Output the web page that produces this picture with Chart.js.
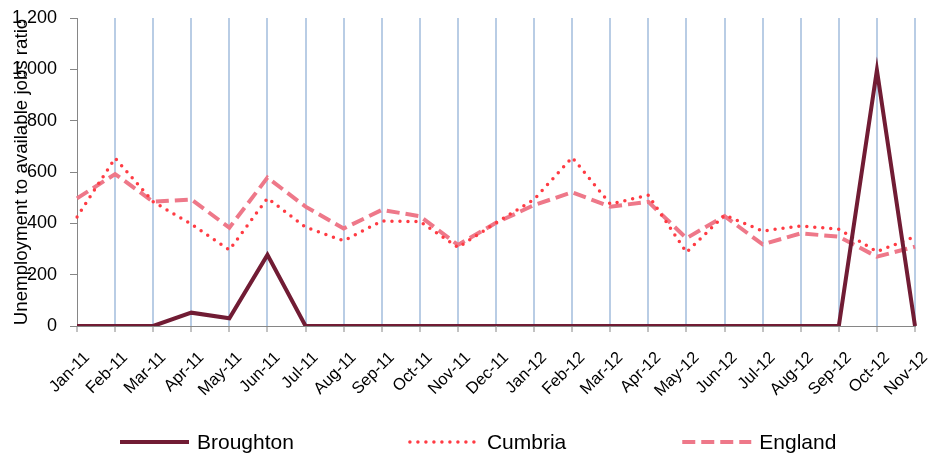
<!DOCTYPE html>
<html><head><meta charset="utf-8">
<script src="https://cdn.jsdelivr.net/npm/chart.js@4/dist/chart.umd.min.js"></script>
<style>html,body{margin:0;padding:0;background:#fff}#wrap{width:934px;height:454px;position:relative}</style>
</head><body><div id="wrap"><canvas id="c"></canvas></div>
<script>
const categories = ['Jan-11','Feb-11','Mar-11','Apr-11','May-11','Jun-11','Jul-11','Aug-11','Sep-11','Oct-11','Nov-11','Dec-11','Jan-12','Feb-12','Mar-12','Apr-12','May-12','Jun-12','Jul-12','Aug-12','Sep-12','Oct-12','Nov-12'];
const broughton = [0,0,0,52,30,277,0,0,0,0,0,0,0,0,0,0,0,0,0,0,0,997,0];
const cumbria = [425,654,484,397,296,498,385,332,409,407,306,402,493,657,475,510,287,432,370,390,377,290,348];
const england = [497,592,484,493,383,578,465,380,452,428,316,402,471,521,465,484,342,428,318,361,348,270,309];
const yTickValues = [0,200,400,600,800,1000,1200];
const seriesNames = ['Broughton','Cumbria','England'];
const yTitle = 'Unemployment to available jobs ratio';

const FONT = '"Liberation Sans", Arial, sans-serif';

const legendPlugin = {
  id: 'customLegend',
  afterDraw(chart) {
    const ctx = chart.ctx;
    ctx.save();
    ctx.font = '21px ' + FONT;
    ctx.textBaseline = 'middle';
    ctx.textAlign = 'left';
    let x = 120; const y = 442;
    chart.data.datasets.forEach(ds => {
      ctx.beginPath();
      ctx.strokeStyle = ds.borderColor;
      ctx.lineWidth = ds.borderWidth;
      ctx.setLineDash(ds.borderDash || []);
      ctx.lineCap = ds.borderCapStyle || 'butt';
      ctx.moveTo(x, y); ctx.lineTo(x + 69, y); ctx.stroke();
      ctx.setLineDash([]);
      ctx.fillStyle = '#000';
      ctx.fillText(ds.label, x + 77, y + 1);
      x += 77 + ctx.measureText(ds.label).width + 116;
    });
    ctx.restore();
  }
};

new Chart(document.getElementById('c'), {
  type: 'line',
  data: {
    labels: categories,
    datasets: [
      { label: seriesNames[0], data: broughton, borderColor: '#711C34', borderWidth: 4, pointRadius: 0, tension: 0, borderJoinStyle: 'miter', fill: false },
      { label: seriesNames[1], data: cumbria, borderColor: '#FF3B43', borderWidth: 3.5, borderDash: [0, 8], borderCapStyle: 'round', pointRadius: 0, tension: 0, fill: false },
      { label: seriesNames[2], data: england, borderColor: '#EE7889', borderWidth: 4, borderDash: [13, 6], pointRadius: 0, tension: 0, fill: false }
    ]
  },
  options: {
    responsive: true,
    maintainAspectRatio: false,
    animation: false,
    layout: { padding: { left: 0, right: 19, top: 18, bottom: 48 } },
    plugins: { legend: { display: false }, tooltip: { enabled: false } },
    scales: {
      x: {
        offset: false,
        afterFit: s => { s.height = 80; s.paddingLeft = 0; s.paddingRight = 0; },
        grid: {
          display: true, drawOnChartArea: true, drawTicks: true, tickLength: 6,
          color: c => c.index === 0 ? 'rgba(0,0,0,0)' : '#B9CDE5', lineWidth: 2,
          tickColor: '#868686', tickWidth: 1
        },
        border: { display: true, color: '#868686', width: 1 },
        ticks: { autoSkip: false, minRotation: 45, maxRotation: 45, color: '#000', font: { family: FONT, size: 16.5 }, padding: 16, labelOffset: 10 }
      },
      y: {
        min: 0, max: 1200,
        afterFit: s => { s.width = 77; s.paddingTop = 0; s.paddingBottom = 0; },
        afterBuildTicks: s => { s.ticks = yTickValues.map(v => ({ value: v })); },
        grid: { display: true, drawOnChartArea: false, drawTicks: true, tickLength: 7, tickColor: '#868686' },
        border: { display: true, color: '#868686', width: 1 },
        ticks: { color: '#000', font: { family: FONT, size: 18 }, padding: 13 },
        title: { display: true, text: yTitle, color: '#000', font: { family: FONT, size: 18.7 }, padding: { top: 11, bottom: 0 } }
      }
    }
  },
  plugins: [legendPlugin]
});
</script></body></html>
